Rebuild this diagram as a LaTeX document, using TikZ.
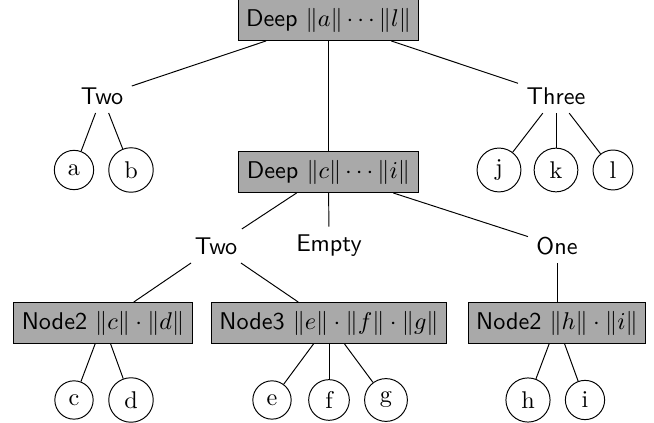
\documentclass[tikz,border=0pt]{standalone}
\usepackage{amsfonts,amssymb,amsmath}
\usepackage{xcolor}
\usepackage{tikz}
\definecolor{boxgray}{RGB}{169,169,169}

\begin{document}
\begin{tikzpicture}[x=0.413pt,y=-0.413pt,
  deep/.style={draw,fill=boxgray,font=\sffamily,minimum height=16.9pt},
  lbl/.style={font=\sffamily},
  leaf/.style={draw,circle}]
\useasboundingbox(0,0)rectangle(654,423);
\node[deep](d0)at(328.5,20){Deep $\|a\|\cdots\|l\|$};
\node[lbl](two0)at(102,96){Two};
\node[lbl](three)at(556,96){Three};
\node[leaf](a)at(74,170){a};
\node[leaf](b)at(131,170){b};
\node[leaf](j)at(499,170){j};
\node[leaf](k)at(556,170){k};
\node[leaf](l)at(613,170){l};
\node[deep](d1)at(328.5,172){Deep $\|c\|\cdots\|i\|$};
\node[lbl](two1)at(216,246){Two};
\node[lbl](empty)at(329,246){Empty};
\node[lbl](one)at(557,246){One};
\node[deep](n2cd)at(103,323){Node2 $\|c\|\cdot\|d\|$};
\node[deep](n3)at(329,323){Node3 $\|e\|\cdot\|f\|\cdot\|g\|$};
\node[deep](n2hi)at(557,323){Node2 $\|h\|\cdot\|i\|$};
\node[leaf](c)at(74,400){c};
\node[leaf](d)at(131,400){d};
\node[leaf](e)at(272,400){e};
\node[leaf](f)at(329,400){f};
\node[leaf](g)at(386,400){g};
\node[leaf](h)at(528,400){h};
\node[leaf](i)at(585,400){i};
\foreach \p/\q in {d0/two0,d0/d1,d0/three,two0/a,two0/b,three/j,three/k,three/l,
  d1/two1,d1/empty,d1/one,two1/n2cd,two1/n3,one/n2hi,
  n2cd/c,n2cd/d,n3/e,n3/f,n3/g,n2hi/h,n2hi/i}
  \draw(\p)--(\q);
\end{tikzpicture}
\end{document}
